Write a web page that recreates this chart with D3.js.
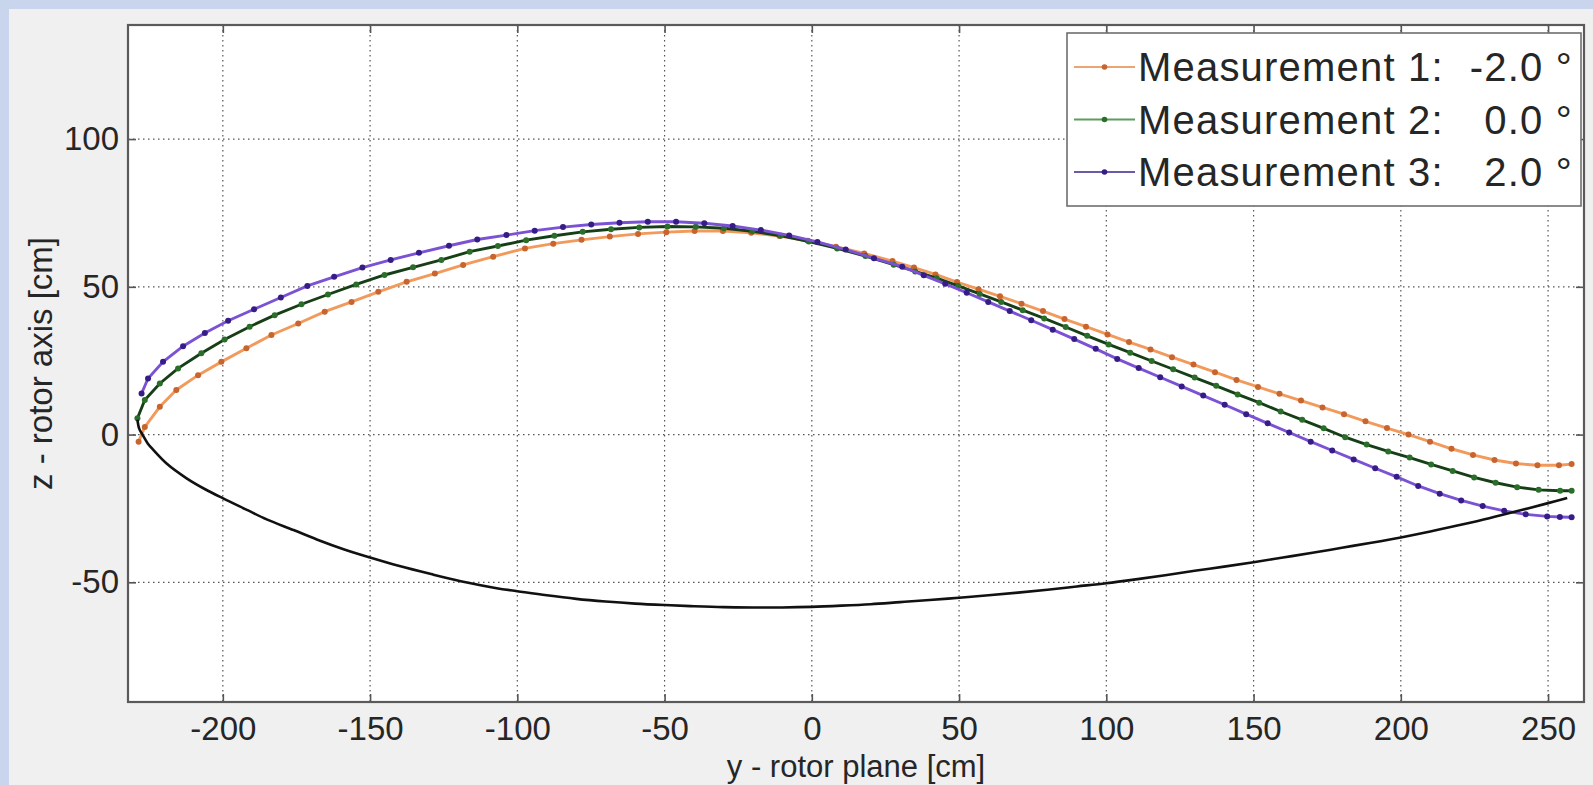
<!DOCTYPE html>
<html>
<head>
<meta charset="utf-8">
<script src="https://cdn.jsdelivr.net/npm/d3@7"></script>
<style>
  body { margin: 0; background: #c9d5ec; }
  svg { display: block; }
  text { font-family: "Liberation Sans", Arial, sans-serif; fill: #262626; }
</style>
</head>
<body>
<svg width="1593" height="785"></svg>
<script>
// [y - rotor plane, z - rotor axis] in cm
const measurement1 = [[-228.6,-2.4],[-226.5,2.6],[-221.4,9.4],[-215.8,15.1],[-208.4,20.1],[-200.5,24.6],[-192.0,29.2],[-183.5,33.7],[-174.4,37.6],[-165.4,41.6],[-156.3,44.9],[-147.2,48.3],[-137.6,51.7],[-128.0,54.5],[-118.4,57.4],[-108.2,60.2],[-97.4,63.0],[-87.8,64.6],[-78.2,65.9],[-68.6,67.0],[-59.0,67.9],[-49.4,68.5],[-39.8,68.9],[-30.2,68.9],[-20.6,68.3],[-11.0,67.2],[-1.4,65.6],[8.2,63.6],[17.8,61.3],[27.4,58.7],[34.7,56.5],[42.0,54.2],[49.3,51.6],[56.6,49.2],[63.9,46.8],[71.2,44.3],[78.5,41.8],[85.8,39.1],[93.1,36.5],[100.4,33.9],[107.7,31.3],[115.0,28.8],[122.3,26.2],[129.6,23.7],[136.9,21.1],[144.2,18.5],[151.5,16.1],[158.8,13.8],[166.1,11.5],[173.4,9.2],[180.7,6.9],[188.0,4.5],[195.3,2.2],[202.6,0.0],[209.9,-2.4],[217.2,-4.8],[224.5,-6.9],[231.8,-8.6],[239.1,-9.8],[246.4,-10.4],[253.7,-10.4],[258.0,-10.0]];
const measurement2 = [[-229.0,5.5],[-226.5,11.7],[-221.4,17.3],[-215.2,22.4],[-207.3,27.5],[-199.4,32.2],[-190.9,36.5],[-182.4,40.4],[-173.3,44.1],[-164.3,47.4],[-154.7,50.8],[-145.1,54.0],[-135.4,56.6],[-125.8,59.1],[-116.2,61.9],[-106.6,63.8],[-97.0,65.8],[-87.4,67.3],[-77.8,68.6],[-68.2,69.5],[-58.6,70.1],[-49.0,70.4],[-39.4,70.3],[-29.8,69.8],[-20.2,68.8],[-10.6,67.3],[-1.0,65.3],[8.6,63.0],[18.2,60.4],[27.8,57.5],[35.1,55.2],[42.4,52.9],[49.7,50.3],[57.0,47.6],[64.3,44.9],[71.6,42.1],[78.9,39.3],[86.2,36.4],[93.5,33.4],[100.8,30.5],[108.1,27.7],[115.4,24.9],[122.7,22.1],[130.0,19.3],[137.3,16.5],[144.6,13.6],[151.9,10.8],[159.2,7.8],[166.5,5.0],[173.8,2.1],[181.1,-0.9],[188.4,-3.4],[195.7,-5.7],[203.0,-7.8],[210.3,-10.1],[217.6,-12.3],[224.9,-14.5],[232.2,-16.3],[239.5,-17.8],[246.8,-18.7],[254.1,-19.0],[258.0,-19.0]];
const measurement3 = [[-227.6,13.9],[-225.4,19.0],[-220.3,24.6],[-213.5,29.9],[-206.1,34.4],[-198.2,38.5],[-189.4,42.4],[-180.3,46.4],[-171.3,50.3],[-162.2,53.4],[-152.6,56.5],[-143.0,59.1],[-133.4,61.5],[-123.2,63.9],[-113.6,66.0],[-103.7,67.5],[-94.1,69.0],[-84.5,70.2],[-74.9,71.1],[-65.3,71.7],[-55.7,72.0],[-46.1,72.0],[-36.5,71.5],[-26.9,70.6],[-17.3,69.2],[-7.7,67.4],[1.9,65.2],[11.5,62.6],[21.1,59.7],[30.7,56.8],[38.0,53.9],[45.3,51.0],[52.6,48.0],[59.9,44.9],[67.2,41.8],[74.5,38.7],[81.8,35.5],[89.1,32.3],[96.4,29.0],[103.7,25.6],[111.0,22.5],[118.3,19.4],[125.6,16.3],[132.9,13.2],[140.2,10.1],[147.5,6.9],[154.8,3.8],[162.1,0.7],[169.4,-2.4],[176.7,-5.4],[184.0,-8.4],[191.3,-11.4],[198.6,-14.3],[205.9,-17.4],[213.2,-20.0],[220.5,-22.3],[227.8,-24.2],[235.1,-25.8],[242.4,-27.0],[249.7,-27.7],[254.0,-27.9],[258.0,-28.0]];
// lower side of the profile
const profileLower = [[-229.0,5.0],[-228.4,2.0],[-227.3,0.0],[-225.5,-3.0],[-223.6,-5.2],[-219.1,-9.8],[-212.3,-14.8],[-206.0,-18.5],[-199.9,-21.6],[-192.0,-25.4],[-185.1,-28.7],[-176.0,-32.3],[-168.1,-35.5],[-159.0,-38.8],[-150.0,-41.6],[-140.0,-44.5],[-128.5,-47.4],[-117.5,-50.0],[-107.0,-52.0],[-100.0,-53.0],[-90.0,-54.4],[-80.0,-55.6],[-70.0,-56.5],[-60.0,-57.2],[-50.0,-57.7],[-40.0,-58.1],[-30.0,-58.4],[-20.0,-58.5],[-10.0,-58.5],[0.0,-58.3],[10.0,-57.9],[20.0,-57.4],[30.0,-56.7],[40.0,-56.0],[50.0,-55.2],[60.0,-54.4],[70.0,-53.5],[80.0,-52.5],[90.0,-51.4],[100.0,-50.3],[110.0,-49.0],[120.0,-47.6],[130.0,-46.1],[140.0,-44.7],[150.0,-43.2],[160.0,-41.6],[170.0,-40.0],[180.0,-38.3],[190.0,-36.6],[200.0,-34.8],[210.0,-32.8],[220.0,-30.6],[230.0,-28.3],[240.0,-25.8],[250.0,-23.2],[256.5,-21.5]];

const seriesNames = ['Measurement 1:', 'Measurement 2:', 'Measurement 3:'];
const seriesAngles = ['-2.0 °', '0.0 °', '2.0 °'];
const xTicks = [-200, -150, -100, -50, 0, 50, 100, 150, 200, 250];
const yTicks = [-50, 0, 50, 100];

const svg = d3.select('svg');
const width = +svg.attr('width');
const height = +svg.attr('height');
const plot = {left: 128, right: 1584, top: 25, bottom: 702};

// figure background
svg.append('rect').attr('x', 9).attr('y', 9).attr('width', width - 9).attr('height', height - 9).attr('fill', '#f0f0f0');
svg.append('rect').attr('x', plot.left).attr('y', plot.top)
  .attr('width', plot.right - plot.left).attr('height', plot.bottom - plot.top).attr('fill', '#fff');

const x = d3.scaleLinear().domain([-232.2, 262.2]).range([plot.left, plot.right]);
const y = d3.scaleLinear().domain([-90.5, 138.6]).range([plot.bottom, plot.top]);

// grid
const grid = svg.append('g').attr('stroke', '#555').attr('stroke-width', 1.2).attr('stroke-dasharray', '1.5,3.5');
grid.selectAll('.gx').data(xTicks).enter().append('line')
  .attr('x1', d => x(d)).attr('x2', d => x(d)).attr('y1', plot.top).attr('y2', plot.bottom);
grid.selectAll('.gy').data(yTicks).enter().append('line')
  .attr('y1', d => y(d)).attr('y2', d => y(d)).attr('x1', plot.left).attr('x2', plot.right);

// axes (inward ticks on all four sides)
const plain = d => String(d);
const styleAxis = g => {
  g.select('.domain').remove();
  g.selectAll('line').attr('stroke', '#555').attr('stroke-width', 1.6);
  g.selectAll('text').attr('font-size', 33).style('fill', '#262626')
    .attr('font-family', '"Liberation Sans", Arial, sans-serif');
};
svg.append('g').attr('transform', `translate(0,${plot.bottom})`)
  .call(d3.axisBottom(x).tickValues(xTicks).tickFormat(plain).tickSizeInner(-8).tickSizeOuter(0).tickPadding(15)).call(styleAxis);
svg.append('g').attr('transform', `translate(0,${plot.top})`)
  .call(d3.axisTop(x).tickValues(xTicks).tickSizeInner(-8).tickSizeOuter(0).tickFormat('')).call(styleAxis);
svg.append('g').attr('transform', `translate(${plot.left},0)`)
  .call(d3.axisLeft(y).tickValues(yTicks).tickFormat(plain).tickSizeInner(-8).tickSizeOuter(0).tickPadding(9)).call(styleAxis);
svg.append('g').attr('transform', `translate(${plot.right},0)`)
  .call(d3.axisRight(y).tickValues(yTicks).tickSizeInner(-8).tickSizeOuter(0).tickFormat('')).call(styleAxis);

svg.append('rect').attr('x', plot.left).attr('y', plot.top)
  .attr('width', plot.right - plot.left).attr('height', plot.bottom - plot.top)
  .attr('fill', 'none').attr('stroke', '#5a5a5a').attr('stroke-width', 2.2);

// axis labels
svg.append('text').attr('x', (plot.left + plot.right) / 2).attr('y', 777)
  .attr('text-anchor', 'middle').attr('font-size', 31).text('y - rotor plane [cm]');
svg.append('text').attr('transform', `translate(52,${(plot.top + plot.bottom) / 2}) rotate(-90)`)
  .attr('text-anchor', 'middle').attr('font-size', 33).text('z - rotor axis [cm]');

// data
const line = d3.line().x(d => x(d[0])).y(d => y(d[1]));
const series = [
  {data: measurement1, stroke: '#f29a5c', dot: '#c8642e'},
  {data: measurement2, stroke: '#173f17', dot: '#2a6e2a'},
  {data: measurement3, stroke: '#7b52d4', dot: '#361c86'}
];
const chart = svg.append('g');
series.forEach(s => {
  chart.append('path').datum(s.data).attr('d', line)
    .attr('fill', 'none').attr('stroke', s.stroke).attr('stroke-width', 2.9);
  chart.selectAll(null).data(s.data).enter().append('circle')
    .attr('cx', d => x(d[0])).attr('cy', d => y(d[1])).attr('r', 3).attr('fill', s.dot);
});
chart.append('path').datum(profileLower).attr('d', line.curve(d3.curveCatmullRom))
  .attr('fill', 'none').attr('stroke', '#111').attr('stroke-width', 2.6);

// legend
const lg = svg.append('g');
lg.append('rect').attr('x', 1067).attr('y', 33).attr('width', 514).attr('height', 173)
  .attr('fill', '#fff').attr('stroke', '#6e6e6e').attr('stroke-width', 1.6);
const legendLight = ['#eea373', '#5f9c5f', '#6a5aa8'];
series.forEach((s, i) => {
  const cy = 67 + i * 52.5;
  lg.append('line').attr('x1', 1074).attr('x2', 1135).attr('y1', cy).attr('y2', cy)
    .attr('stroke', legendLight[i]).attr('stroke-width', 2.2);
  lg.append('circle').attr('cx', 1104.5).attr('cy', cy).attr('r', 2.8).attr('fill', s.dot);
  lg.append('text').attr('x', 1138).attr('y', cy + 14).attr('font-size', 40)
    .attr('letter-spacing', 1.2).text(seriesNames[i]);
  lg.append('text').attr('x', 1573).attr('y', cy + 14).attr('font-size', 40)
    .attr('letter-spacing', 1.2).attr('text-anchor', 'end').text(seriesAngles[i]);
});
</script>
</body>
</html>
